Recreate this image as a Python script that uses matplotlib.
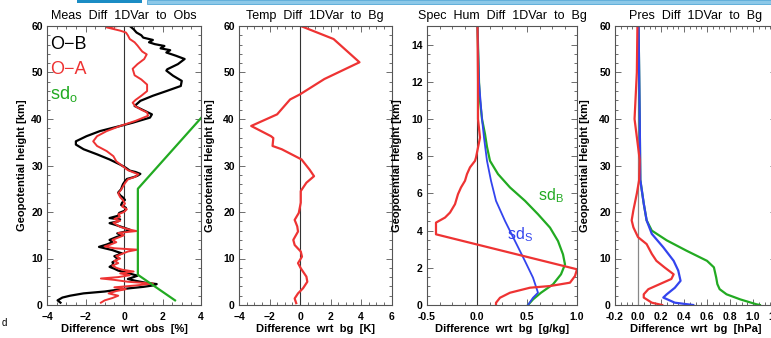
import matplotlib
matplotlib.use("Agg")
import matplotlib.pyplot as plt
from matplotlib.ticker import AutoMinorLocator, FormatStrFormatter
from matplotlib.patches import Rectangle

plt.rcParams['font.family'] = ['Liberation Sans', 'DejaVu Sans']
plt.rcParams['mathtext.fontset'] = 'custom'
plt.rcParams['mathtext.rm'] = 'Liberation Sans'

# ---------------- Panel 1: Meas Diff 1DVar to Obs ----------------
ob_h = [0.5, 1.0, 1.6, 2.0, 2.5, 2.9, 3.3, 3.6, 3.9, 4.2, 4.5, 4.8, 5.2, 5.6, 6.0, 6.3,
        6.7, 7.0, 7.4, 7.8, 8.2, 8.7, 9.2, 9.6, 10.0, 10.5, 11.1, 11.5, 11.8, 12.2, 12.5,
        13.0, 13.5, 14.0, 14.6, 15.0, 15.4, 15.8, 16.2, 16.9, 17.3, 17.6, 18.0, 18.4, 18.7,
        19.2, 19.8, 20.3, 20.9, 21.5, 22.0, 22.6, 23.1, 23.6, 24.2, 24.9, 25.5, 26.0, 26.6,
        27.1, 27.5, 27.8, 28.2, 28.6, 28.9, 29.5, 30.2, 31.3, 32.4, 33.5, 34.5, 35.2, 36.3,
        37.4, 38.5, 39.2, 40.3, 41.0, 42.1, 42.8, 43.9, 45.0, 46.0, 47.1, 48.2, 49.3, 50.4,
        50.7, 51.8, 52.9, 53.6, 54.3, 54.8, 55.2, 55.7, 56.1, 56.5, 57.0, 57.5, 58.0, 58.6,
        59.3, 60.0]
ob_v = [-3.3, -3.45, -3.2, -2.8, -2.1, -1.0, -0.3, 0.3, 1.0, 1.5, 1.7, 1.1, 0.6, 0.2, 0.5, 0.7,
        0.35, 0.1, -0.3, -0.5, -0.75, -0.55, -0.6, -0.4, -0.35, -0.5, -0.1, -0.4, -0.6, -1.0, -1.3,
        -0.9, -0.6, -0.75, -0.4, -0.1, -0.35, 0.1, 0.3, -0.2, -0.5, -0.75, -0.3, -0.2, -0.75,
        -0.3, -0.25, 0.05, 0.1, -0.15, -0.1, 0.05, -0.05, -0.2, -0.3, -0.15, -0.1, -0.05, 0.05,
        0.15, 0.5, 0.7, 0.85, 0.6, 0.3, 0.1, -0.2, -0.75, -1.4, -2.1, -2.5, -2.5, -1.95,
        -1.25, -0.2, 0.45, 1.35, 1.45, 0.9, 0.55, 0.85, 1.5, 2.2, 2.95, 3.0, 2.55, 2.2,
        2.25, 2.8, 3.15, 2.7, 2.2, 2.4, 1.9, 2.1, 1.6, 1.3, 1.5, 1.0, 0.9, 0.65,
        0.5, 0.3]

oa_h = [0.5, 1.0, 1.5, 2.0, 2.5, 3.0, 3.4, 3.8, 4.2, 4.6, 5.0, 5.4, 5.7, 6.0, 6.4, 6.8, 7.2,
        7.6, 8.0, 8.5, 9.0, 9.5, 10.0, 10.5, 11.0, 11.5, 11.9, 12.2, 12.6, 13.0, 13.5, 14.0,
        14.5, 15.0, 15.5, 15.9, 16.3, 16.8, 17.3, 17.7, 18.1, 18.5, 19.0, 19.5, 20.0, 20.6,
        21.2, 21.8, 22.5, 23.2, 24.0, 24.8, 25.5, 26.2, 27.0, 27.6, 28.1, 28.5, 29.0, 29.8,
        30.9, 32.0, 33.1, 34.2, 35.2, 36.3, 37.4, 38.5, 39.6, 40.7, 41.4, 42.0, 42.7, 43.5,
        44.1, 45.0, 46.0, 47.4, 48.5, 49.4, 50.8, 51.8, 52.9, 53.9, 54.5, 55.0, 55.8, 56.5,
        57.2, 58.0, 58.6, 59.0, 59.4, 59.7, 60.0]
oa_v = [-1.2, -1.0, -0.6, -0.3, -0.8, -0.4, 0.1, -0.5, 0.6, 1.5, 0.2, -0.5, -1.2, -0.3, 0.3,
        -0.2, 0.5, -0.1, -0.4, -0.6, -0.3, -0.5, -0.2, -0.4, -0.1, 0.2, 0.7, -0.5, -1.0, -0.7,
        -0.4, -0.6, -0.3, 0.0, -0.3, 0.65, 0.2, -0.2, -0.4, -0.55, -0.2, -0.5, -0.2, -0.3, 0.0,
        0.15, -0.1, 0.05, -0.05, -0.2, -0.3, -0.15, -0.05, 0.05, 0.2, 0.6, 0.75, 0.5, 0.2, -0.05,
        -0.4, -0.55, -0.9, -1.4, -1.6, -1.4, -0.9, -0.2, 0.6, 1.25, 1.2, 0.9, 0.6, 0.45,
        0.6, 0.9, 1.2, 1.2, 0.9, 0.55, 0.45, 0.7, 1.05, 1.18, 0.95, 0.85, 0.7, 0.55,
        0.3, 0.2, 0.1, -0.2, -0.6, -0.9, -0.3]

sdo_h = [1.0, 6.5, 25.0, 40.2]
sdo_v = [2.65, 0.72, 0.72, 4.0]

# ---------------- Panel 2: Temp Diff 1DVar to Bg ----------------
t_h = [0.4, 1.4, 2.5, 3.6, 5.0, 6.1, 7.9, 9.0, 10.4, 11.5, 12.9, 14.0, 15.8, 16.9, 18.3,
       19.8, 22.0, 24.5, 26.3, 27.7, 29.1, 31.3, 33.5, 34.2, 35.9, 36.3, 38.5, 41.0, 44.2,
       45.3, 48.6, 52.2, 57.2, 60.0]
t_v = [-0.25, -0.35, -0.13, 0.2, 0.48, 0.42, 0.05, -0.13, 0.13, 0.05, -0.35, -0.44, -0.13,
       -0.18, -0.35, -0.08, 0.05, 0.05, 0.42, 0.92, 0.63, 0.1, -1.2, -1.8, -1.75, -1.9, -3.2,
       -1.5, -0.65, 0.0, 1.6, 3.9, 2.2, 0.05]

# ---------------- Panel 3: Spec Hum Diff 1DVar to Bg ----------------
q_h = [0.0, 0.12, 0.39, 0.66, 0.93, 1.02, 1.2, 1.56, 1.92, 3.8, 4.43, 4.7, 4.97, 5.42, 5.96,
       6.32, 6.68, 7.04, 7.4, 7.75, 7.93, 9.0, 10.0, 12.0, 15.0]
q_v = [0.19, 0.19, 0.23, 0.33, 0.53, 0.73, 0.93, 0.98, 1.0, -0.41, -0.41, -0.32, -0.27,
       -0.22, -0.19, -0.16, -0.12, -0.1, -0.07, -0.02, -0.01, 0.03, 0.01, 0.01, 0.005]

sdb_h = [0.0, 0.3, 0.66, 1.11, 1.65, 2.18, 2.72, 3.44, 4.16, 4.88, 5.6, 6.32, 7.04, 7.75,
         8.5, 9.19, 10.0, 11.0, 12.0, 15.0]
sdb_v = [0.51, 0.56, 0.64, 0.76, 0.84, 0.88, 0.86, 0.81, 0.73, 0.61, 0.48, 0.33, 0.21, 0.13,
         0.1, 0.08, 0.05, 0.03, 0.02, 0.005]

sds_h = [0.0, 0.39, 0.66, 1.47, 2.36, 3.44, 4.52, 5.6, 6.68, 7.75, 9.0, 10.0, 12.0, 15.0]
sds_v = [0.51, 0.56, 0.61, 0.56, 0.48, 0.38, 0.28, 0.19, 0.14, 0.1, 0.07, 0.05, 0.02, 0.005]

# ---------------- Panel 4: Pres Diff 1DVar to Bg ----------------
p_h = [0.0, 0.5, 1.6, 2.3, 3.4, 4.5, 5.6, 6.6, 8.1, 9.5, 11.0, 13.1, 14.6, 16.7, 18.2,
       20.4, 24.0, 26.9, 31.2, 40.0, 50.0, 60.0]
p_v = [0.21, 0.12, 0.05, 0.05, 0.09, 0.19, 0.29, 0.31, 0.23, 0.16, 0.12, 0.075, 0.0, -0.04,
       -0.055, -0.04, -0.01, 0.01, 0.015, -0.03, -0.01, -0.005]

pb_h = [0.0, 0.15, 1.2, 2.3, 3.4, 4.5, 5.9, 8.1, 9.5, 11.7, 13.9, 16.0, 18.2, 21.8, 26.9,
        40.0, 60.0]
pb_v = [1.06, 1.03, 0.89, 0.77, 0.71, 0.69, 0.68, 0.66, 0.6, 0.42, 0.25, 0.12, 0.075, 0.05,
        0.02, 0.015, 0.005]

ps_h = [0.0, 0.5, 1.6, 2.3, 3.7, 5.2, 7.4, 9.5, 12.4, 15.3, 18.2, 21.8, 26.9, 40.0, 60.0]
ps_v = [0.48, 0.32, 0.22, 0.25, 0.32, 0.37, 0.35, 0.31, 0.22, 0.12, 0.075, 0.05, 0.02,
        0.015, 0.005]

RED = '#ee3333'
GREEN = '#22aa22'
BLUE = '#3344ee'
SPINE = '#555555'

W, H = 771, 338
fig = plt.figure(figsize=(W / 100, H / 100), dpi=100)

ybot, ytop = 305, 26


def make_ax(x0, x1):
    ax = fig.add_axes([x0 / W, (H - ybot) / H, (x1 - x0) / W, (ybot - ytop) / H])
    for s in ax.spines.values():
        s.set_color(SPINE)
        s.set_linewidth(0.8)
    ax.tick_params(which='both', direction='in', top=True, right=True, colors=SPINE,
                   labelcolor='black', labelsize=7.5, width=0.6)
    ax.tick_params(which='major', length=4)
    ax.tick_params(which='minor', length=2)
    ax.tick_params(axis='x', pad=5)
    ax.tick_params(axis='y', pad=3)
    return ax


def finish(ax, title, xlabel, ylabel, ylab_px, x0, x1):
    ax.set_title(title, fontsize=9, pad=5)
    ax.set_xlabel(xlabel, fontsize=8, fontweight='bold')
    ax.xaxis.set_label_coords(0.5, (ybot - 329) / (ybot - ytop))
    ax.xaxis.label.set_va('center')
    ax.set_ylabel(ylabel, fontsize=8, fontweight='bold')
    ax.yaxis.set_label_coords((ylab_px - x0) / (x1 - x0), 0.5)
    ax.yaxis.label.set_va('center')
    ax.xaxis.set_minor_locator(AutoMinorLocator(4))
    ax.yaxis.set_minor_locator(AutoMinorLocator(5))
    for lab in ax.get_xticklabels() + ax.get_yticklabels():
        lab.set_fontweight('bold')


# Panel 1
ax1 = make_ax(47, 201)
ax1.axvline(0, color='#333333', lw=0.8)
ax1.plot(ob_v, ob_h, color='black', lw=1.6)
ax1.plot(oa_v, oa_h, color=RED, lw=1.4)
ax1.plot(sdo_v, sdo_h, color=GREEN, lw=1.6)
ax1.set_xlim(-4, 4)
ax1.set_ylim(0, 60)
ax1.set_xticks([-4, -2, 0, 2, 4])
ax1.set_yticks([0, 10, 20, 30, 40, 50, 60])
ax1.text(0.02, 0.935, 'O\u2212B', transform=ax1.transAxes, fontsize=13, color='black', va='center')
ax1.text(0.02, 0.845, 'O\u2212A', transform=ax1.transAxes, fontsize=13, color=RED, va='center')
ax1.text(0.02, 0.755, r'sd$_\mathrm{o}$', transform=ax1.transAxes, fontsize=13, color=GREEN, va='center')
finish(ax1, 'Meas  Diff  1DVar  to  Obs', 'Difference  wrt  obs  [%]', 'Geopotential height [km]', 22, 47, 201)

# Panel 2
ax2 = make_ax(239, 391.5)
ax2.axvline(0, color='#333333', lw=0.8)
ax2.plot(t_v, t_h, color=RED, lw=1.6)
ax2.set_xlim(-4, 6)
ax2.set_ylim(0, 60)
ax2.set_xticks([-4, -2, 0, 2, 4, 6])
ax2.set_yticks([0, 10, 20, 30, 40, 50, 60])
finish(ax2, 'Temp  Diff  1DVar  to  Bg', 'Difference  wrt  bg  [K]', 'Geopotential Height [km]', 210, 239, 391.5)

# Panel 3
ax3 = make_ax(427, 577)
ax3.axvline(0, color='#333333', lw=0.8)
ax3.plot(sdb_v, sdb_h, color=GREEN, lw=1.6)
ax3.plot(sds_v, sds_h, color=BLUE, lw=1.3)
ax3.plot(q_v, q_h, color=RED, lw=1.6)
ax3.set_xlim(-0.5, 1.0)
ax3.set_ylim(0, 15)
ax3.set_xticks([-0.5, 0.0, 0.5, 1.0])
ax3.xaxis.set_major_formatter(FormatStrFormatter('%.1f'))
ax3.set_yticks([0, 2, 4, 6, 8, 10, 12, 14])
ax3.text(0.61, 5.9, r'sd$_\mathrm{B}$', fontsize=11.5, color=GREEN, va='center')
ax3.text(0.30, 3.8, r'sd$_\mathrm{S}$', fontsize=11.5, color=BLUE, va='center')
finish(ax3, 'Spec  Hum  Diff  1DVar  to  Bg', 'Difference  wrt  bg  [g/kg]', 'Geopotential Height [km]', 397, 427, 577)
ax3.yaxis.set_minor_locator(AutoMinorLocator(4))

# Panel 4
ax4 = make_ax(615, 776)
ax4.axvline(0, color='#888888', lw=0.9)
ax4.plot(pb_v, pb_h, color=GREEN, lw=1.6)
ax4.plot(ps_v, ps_h, color=BLUE, lw=1.6)
ax4.plot(p_v, p_h, color=RED, lw=1.6)
ax4.set_xlim(-0.2, 1.2)
ax4.set_ylim(0, 60)
ax4.set_xticks([-0.2, 0.0, 0.2, 0.4, 0.6, 0.8, 1.0, 1.2])
ax4.xaxis.set_major_formatter(FormatStrFormatter('%.1f'))
ax4.set_yticks([0, 10, 20, 30, 40, 50, 60])
finish(ax4, 'Pres  Diff  1DVar  to  Bg', 'Difference  wrt  bg  [hPa]', 'Geopotential Height [km]', 585, 615, 776)

# decorative header strip and stray letter from the source slide
fig.patches.append(Rectangle((77 / W, 1 - 3 / H), 65 / W, 3 / H, transform=fig.transFigure,
                             facecolor='#1b8cc4', edgecolor='none'))
fig.patches.append(Rectangle((147 / W, 1 - 3.5 / H), (W - 147) / W, 3.5 / H, transform=fig.transFigure,
                             facecolor='#8cc8e8', edgecolor='#3a9ad0', lw=0.5))
fig.text(2 / W, 1 - 323 / H, 'd', fontsize=7, va='center')

fig.savefig('out.png', dpi=100)
